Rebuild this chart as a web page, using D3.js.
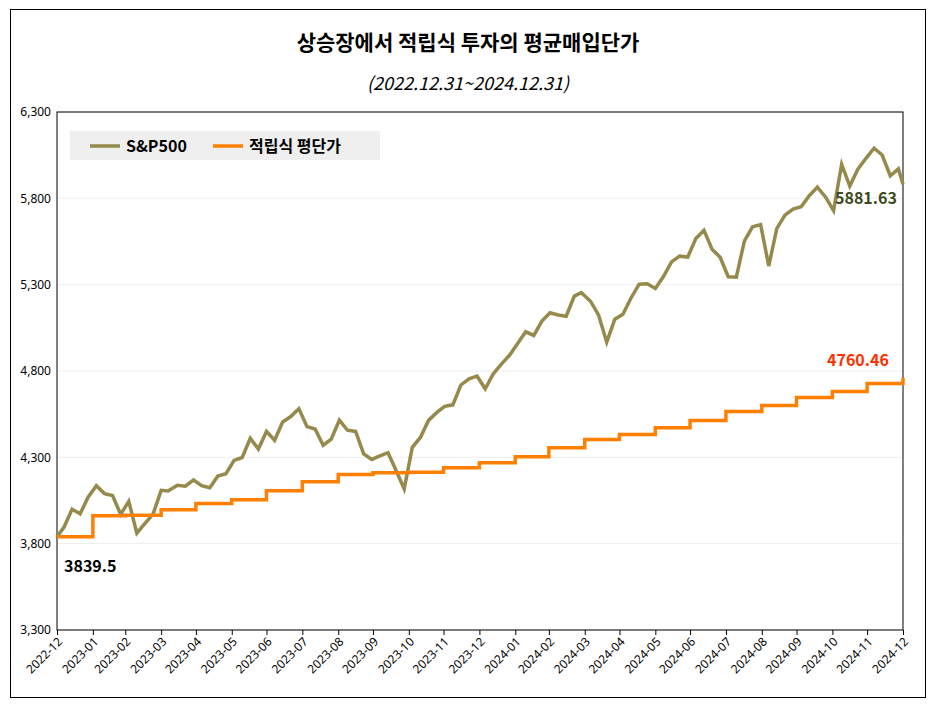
<!DOCTYPE html>
<html><head><meta charset="utf-8">
<script src="https://cdn.jsdelivr.net/npm/d3@7"></script>
<style>body{margin:0;background:#fff;font-family:"Noto Sans CJK KR","Noto Sans",sans-serif}</style>
</head><body><svg id="c" width="936" height="707"></svg>
<script>
const spDates = ["2022-12-31","2023-01-06","2023-01-13","2023-01-20","2023-01-27","2023-02-03","2023-02-10","2023-02-17","2023-02-24","2023-03-03","2023-03-10","2023-03-17","2023-03-24","2023-03-31","2023-04-06","2023-04-14","2023-04-21","2023-04-28","2023-05-05","2023-05-12","2023-05-19","2023-05-26","2023-06-02","2023-06-09","2023-06-16","2023-06-23","2023-06-30","2023-07-07","2023-07-14","2023-07-21","2023-07-28","2023-08-04","2023-08-11","2023-08-18","2023-08-25","2023-09-01","2023-09-08","2023-09-15","2023-09-22","2023-09-29","2023-10-06","2023-10-13","2023-10-20","2023-10-27","2023-11-03","2023-11-10","2023-11-17","2023-11-24","2023-12-01","2023-12-08","2023-12-15","2023-12-22","2023-12-29","2024-01-05","2024-01-12","2024-01-19","2024-01-26","2024-02-02","2024-02-09","2024-02-16","2024-02-23","2024-03-01","2024-03-08","2024-03-15","2024-03-22","2024-03-28","2024-04-05","2024-04-12","2024-04-19","2024-04-26","2024-05-03","2024-05-10","2024-05-17","2024-05-24","2024-05-31","2024-06-07","2024-06-14","2024-06-21","2024-06-28","2024-07-05","2024-07-12","2024-07-19","2024-07-26","2024-08-02","2024-08-09","2024-08-16","2024-08-23","2024-08-30","2024-09-06","2024-09-13","2024-09-20","2024-09-27","2024-10-04","2024-10-11","2024-10-18","2024-10-25","2024-11-01","2024-11-08","2024-11-15","2024-11-22","2024-11-29","2024-12-06","2024-12-13","2024-12-20","2024-12-27","2024-12-31"];
const spValues = [3839.5,3895,3999,3973,4071,4136,4090,4079,3970,4045,3861,3917,3971,4109,4105,4138,4133,4169,4136,4124,4192,4205,4282,4299,4410,4348,4450,4399,4505,4536,4582,4478,4464,4370,4406,4516,4457,4450,4320,4288,4309,4327,4224,4117,4358,4415,4514,4559,4595,4604,4719,4755,4770,4697,4784,4840,4891,4959,5027,5006,5089,5137,5124,5117,5234,5254,5204,5123,4967,5100,5128,5223,5303,5305,5278,5347,5432,5465,5460,5567,5615,5505,5459,5346,5344,5554,5635,5648,5408,5626,5703,5738,5751,5815,5865,5808,5729,5996,5871,5969,6032,6090,6051,5931,5971,5881.63];
const avgDates = ["2022-12-31","2023-01-31","2023-02-28","2023-03-31","2023-04-30","2023-05-31","2023-06-30","2023-07-31","2023-08-31","2023-09-30","2023-10-31","2023-11-30","2023-12-31","2024-01-31","2024-02-29","2024-03-31","2024-04-30","2024-05-31","2024-06-30","2024-07-31","2024-08-31","2024-09-30","2024-10-31","2024-11-30","2024-12-31"];
const avgValues = [3839.5,3962,3965,3997,4032,4055,4107,4159,4200,4211,4213,4240,4269,4304,4356,4403,4432,4472,4513,4565,4600,4646,4681,4727,4760.46];
const yTicks = [3300,3800,4300,4800,5300,5800,6300];

const p = d3.timeParse("%Y-%m-%d");
const svg = d3.select("#c");
svg.append("rect").attr("x",10.5).attr("y",9.5).attr("width",915).attr("height",688).attr("fill","none").attr("stroke","#000");
const L=57,R=903,T=112,B=630;
const x = d3.scaleTime().domain([p("2022-12-31"),p("2024-12-31")]).range([L,R]);
const y = d3.scaleLinear().domain([3300,6300]).range([B,T]);
svg.append("text").attr("x",468).attr("y",50).attr("text-anchor","middle").attr("font-size",21).attr("font-weight","bold").text("상승장에서 적립식 투자의 평균매입단가");
svg.append("text").attr("x",468).attr("y",90).attr("text-anchor","middle").attr("font-size",18).attr("font-style","italic").text("(2022.12.31~2024.12.31)");
svg.append("g").selectAll("line").data(yTicks).join("line").attr("x1",L).attr("x2",R).attr("y1",d=>y(d)).attr("y2",d=>y(d)).attr("stroke","#eee");
const ya = svg.append("g").attr("transform",`translate(${L},0)`).call(d3.axisLeft(y).tickValues(yTicks).tickSize(0).tickPadding(6));
ya.selectAll("text").attr("font-size",12).attr("font-family","Noto Sans");ya.select(".domain").remove();
const mTicks = avgDates.map(p);
const xa = svg.append("g").attr("transform",`translate(0,${B})`).call(d3.axisBottom(x).tickValues(mTicks).tickSize(5).tickFormat(d3.timeFormat("%Y-%m")));
xa.selectAll("text").attr("font-size",12).attr("font-family","Noto Sans").attr("text-anchor","end").attr("transform","rotate(-45)").attr("dx","-0.4em").attr("dy","0.4em");
xa.select(".domain").remove();
svg.append("rect").attr("x",L).attr("y",T).attr("width",R-L).attr("height",B-T).attr("fill","none").attr("stroke","#000");
const sp = spDates.map((d,i)=>[p(d),spValues[i]]);
svg.append("path").datum(sp).attr("fill","none").attr("stroke","#958a4c").attr("stroke-width",3.5)
 .attr("d",d3.line().x(d=>x(d[0])).y(d=>y(d[1])));
const av = avgDates.map((d,i)=>[p(d),avgValues[i]]);
svg.append("path").datum(av).attr("fill","none").attr("stroke","#ff8000").attr("stroke-width",3.5)
 .attr("d",d3.line().x(d=>x(d[0])).y(d=>y(d[1])).curve(d3.curveStepAfter));
svg.append("text").attr("x",x(sp[sp.length-1][0])-68).attr("y",y(5881.63)+20).attr("font-size",16).attr("font-weight","bold").attr("fill","#3d4a20").text("5881.63");
svg.append("text").attr("x",x(av[av.length-1][0])-76).attr("y",y(4760.46)-12).attr("font-size",16).attr("font-weight","bold").attr("fill","#ff3000").text("4760.46");
svg.append("text").attr("x",64).attr("y",y(3839.5)+35).attr("font-size",16).attr("font-weight","bold").text("3839.5");
const lg = svg.append("g");
lg.append("rect").attr("x",70).attr("y",131).attr("width",310).attr("height",29).attr("fill","#efefef");
[["S&P500","#958a4c",90],["적립식 평단가","#ff8000",213]].forEach(([t,c,x0])=>{
 lg.append("line").attr("x1",x0).attr("x2",x0+30).attr("y1",146).attr("y2",146).attr("stroke",c).attr("stroke-width",3.5);
 lg.append("text").attr("x",x0+36).attr("y",152).attr("font-size",16).attr("font-weight","bold").text(t);
});
</script></body></html>
